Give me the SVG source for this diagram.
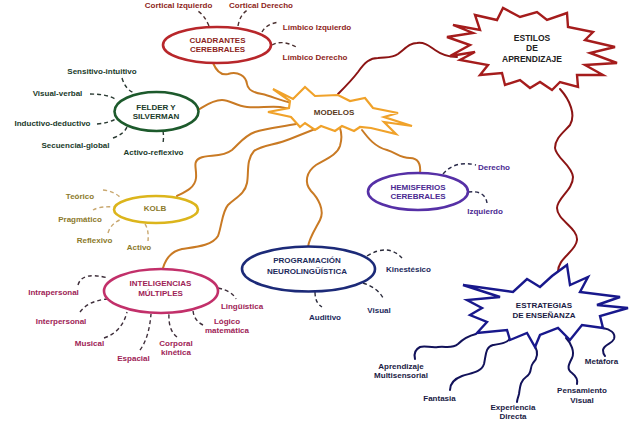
<svg xmlns="http://www.w3.org/2000/svg" width="631" height="423" viewBox="0 0 631 423">
<style>
text{font-family:"Liberation Sans",Arial,sans-serif;font-weight:bold;font-size:8px;text-anchor:middle}
.wire{fill:none;stroke-width:2;stroke-linecap:round}
.or{stroke:#c97a24}
.rd{stroke:#8c1414}
.nv{stroke:#12125a}
.dash{fill:none;stroke-width:1.4;stroke-dasharray:4 3}
.node{fill:#fff;stroke-width:2.6}
.cq{stroke:#b8272b}.tcq{fill:#8e1f22}
.fs{stroke:#1d5a2c}.tfs{fill:#1b3b2b}
.kb{stroke:#dcb51c}.tkb{fill:#8c7a2c}
.im{stroke:#c2306a}.tim{fill:#9e2356}
.pn{stroke:#1c2a78}.tpn{fill:#1c2a5c}
.hm{stroke:#5630a6}.thm{fill:#4a2a92}
.md{stroke:#f0a22a;stroke-width:2.2}.tmd{fill:#5a3a1a}
.es{stroke:#a51c1c;stroke-width:2.4}.tes{fill:#222}
.et{stroke:#18188c;stroke-width:2.4}.tet{fill:#1a1a44}
</style>

<g id="connectors">
  <!-- orange from MODELOS -->
  <path class="wire or" d="M213,63 C216,70 220,76 228,74 C238,71 246,76 247,84 C248,91 255,93 262,94 C272,96 280,101 293,103"/>
  <path class="wire or" d="M198,110 C205,106 212,100 222,100 C230,100 236,106 247,107 C258,108 270,106 280,107 C286,108 290,109 294,110"/>
  <path class="wire or" d="M177,196 C185,192 195,188 196,178 C197,168 192,162 200,158 C208,154 222,158 232,150 C240,143 244,136 255,132 C265,129 280,127 296,124"/>
  <path class="wire or" d="M163,268 C166,258 172,251 182,249 C195,247 212,246 218,236 C222,225 222,212 228,205 C235,198 245,194 247,183 C249,172 246,160 254,151 C262,145 276,145 290,139 C300,135 310,131 318,128"/>
  <path class="wire or" d="M308,247 C309,238 316,228 320,220 C325,210 318,198 311,191 C304,183 306,172 316,165 C326,159 337,155 340,146 C342,139 342,134 340,128"/>
  <path class="wire or" d="M362,130 C368,138 375,147 387,150 C397,153 400,158 410,158 C418,158 421,164 420,173"/>
  <!-- red -->
  <path class="wire rd" d="M338,94 C346,86 352,80 358,72 C365,62 370,58 378,58 C388,57 392,58 398,54 C406,48 410,43 417,43 C426,42 430,47 435,50 C442,55 448,57 457,57"/>
  <path class="wire rd" d="M560,89 C570,100 576,115 570,125 C564,132 555,138 555,148 C556,158 572,165 573,177 C573,190 557,198 557,208 C557,220 578,228 577,240 C576,252 557,258 558,273"/>
  <!-- navy from ESTRATEGIAS -->
  <path class="wire nv" d="M476,334 C468,336 462,340 458,344 C452,349 446,346 438,347 C430,348 425,345 420,347 C414,350 414,355 415,359"/>
  <path class="wire nv" d="M510,338 C508,343 500,344 493,345 C485,347 486,356 484,364 C481,373 470,373 462,376 C454,379 450,384 450,390"/>
  <path class="wire nv" d="M535,346 C538,352 538,358 533,363 C529,368 533,373 526,377 C520,381 520,388 519,394 C518,398 517,400 517,402"/>
  <path class="wire nv" d="M566,338 C571,343 575,352 572,358 C569,364 566,369 572,373 C577,377 578,380 577,384"/>
  <path class="wire nv" d="M603,328 C610,329 616,333 614,339 C612,344 604,344 603,350 C603,353 604,355 605,356"/>
  <!-- dashed: cuadrantes -->
  <g stroke="#4a3030">
    <path class="dash" d="M209,26 Q204,14 196,10"/>
    <path class="dash" d="M238,26 Q240,14 249,9"/>
    <path class="dash" d="M262,32 Q266,24 279,22"/>
    <path class="dash" d="M272,45 Q283,39 298,48"/>
  </g>
  <!-- dashed: felder -->
  <g stroke="#2a3a32">
    <path class="dash" d="M122,78 Q125,89 134,93"/>
    <path class="dash" d="M90,94 Q108,94 117,100"/>
    <path class="dash" d="M97,124 Q110,123 117,118"/>
    <path class="dash" d="M113,138 Q124,134 127,127"/>
    <path class="dash" d="M163,131 Q164,137 163,143"/>
  </g>
  <!-- dashed: kolb -->
  <g stroke="#c9a870">
    <path class="dash" d="M103,190 Q114,191 121,198"/>
    <path class="dash" d="M93,210 Q100,206 114,207"/>
    <path class="dash" d="M108,233 Q111,223 122,219"/>
    <path class="dash" d="M145,224 Q149,230 148,241"/>
  </g>
  <!-- dashed: inteligencias -->
  <g stroke="#3e2e3a">
    <path class="dash" d="M78,285 Q82,271 108,278"/>
    <path class="dash" d="M80,312 Q88,301 107,299"/>
    <path class="dash" d="M104,338 Q122,332 127,312"/>
    <path class="dash" d="M140,350 Q149,338 151,314"/>
    <path class="dash" d="M177,337 Q168,330 169,313"/>
    <path class="dash" d="M203,325 Q193,320 193,309"/>
    <path class="dash" d="M218,288 Q232,291 236,299"/>
  </g>
  <!-- dashed: pnl -->
  <g stroke="#2a2a3a">
    <path class="dash" d="M367,256 Q388,243 402,258"/>
    <path class="dash" d="M363,283 Q378,288 383,298"/>
    <path class="dash" d="M315,292 Q315,303 322,307"/>
  </g>
  <!-- dashed: hemisferios -->
  <g stroke="#2a2a4a">
    <path class="dash" d="M443,174 Q455,160 476,165"/>
    <path class="dash" d="M468,192 Q485,190 487,203"/>
  </g>
</g>

<g id="modelos">
  <polygon class="node md" points="273,89 293,99 305,87 315,96 338,95 350,101 365,98 373,108 398,113 384,117 412,126 384,122 396,134 371,128 360,127 354,131 342,126 335,131 321,126 315,130 305,123 300,127 291,117 268,112 289,108 290,101"/>
  <text class="tmd" x="334" y="115">MODELOS</text>
</g>

<g id="estilos">
  <polygon class="node es" points="453,25 480,30 475,15 497,20 503,8 520,17 537,12 547,20 567,13 568,27 593,32 585,40 615,47 590,53 617,63 585,65 603,75 577,75 578,87 560,82 552,90 540,82 530,88 520,80 505,85 502,73 480,75 488,65 460,60 475,52 450,56 470,45 447,37 473,33"/>
  <text class="tes" x="532" y="41" style="font-size:8.5px">ESTILOS</text>
  <text class="tes" x="532" y="51" style="font-size:8.5px">DE</text>
  <text class="tes" x="532" y="62" style="font-size:8.5px">APRENDIZAJE</text>
</g>

<g id="cuadrantes">
  <ellipse class="node cq" cx="217" cy="45" rx="54" ry="18"/>
  <text class="tcq" x="217.5" y="43">CUADRANTES</text>
  <text class="tcq" x="217.5" y="52">CEREBRALES</text>
  <text class="tcq" x="178.5" y="8">Cortical Izquierdo</text>
  <text class="tcq" x="261" y="8">Cortical Derecho</text>
  <text class="tcq" x="317" y="30">Límbico Izquierdo</text>
  <text class="tcq" x="315" y="60">Límbico Derecho</text>
</g>

<g id="felder">
  <ellipse class="node fs" cx="156.5" cy="111.5" rx="42" ry="19.5"/>
  <text class="tfs" x="156" y="110">FELDER Y</text>
  <text class="tfs" x="156" y="119">SILVERMAN</text>
  <text class="tfs" x="102" y="74">Sensitivo-intuitivo</text>
  <text class="tfs" x="57.5" y="96">Visual-verbal</text>
  <text class="tfs" x="52.5" y="126">Inductivo-deductivo</text>
  <text class="tfs" x="75.5" y="148">Secuencial-global</text>
  <text class="tfs" x="153.5" y="155">Activo-reflexivo</text>
</g>

<g id="kolb">
  <ellipse class="node kb" cx="156" cy="209.5" rx="42" ry="13.5"/>
  <text class="tkb" x="155" y="211">KOLB</text>
  <text class="tkb" x="80" y="199">Teórico</text>
  <text class="tkb" x="80" y="222">Pragmático</text>
  <text class="tkb" x="94.5" y="243">Reflexivo</text>
  <text class="tkb" x="139" y="250">Activo</text>
</g>

<g id="inteligencias">
  <ellipse class="node im" cx="161" cy="291" rx="57" ry="22"/>
  <text class="tim" x="160.5" y="286">INTELIGENCIAS</text>
  <text class="tim" x="160.5" y="296">MÚLTIPLES</text>
  <text class="tim" x="53.5" y="295">Intrapersonal</text>
  <text class="tim" x="61" y="324">Interpersonal</text>
  <text class="tim" x="89.5" y="346">Musical</text>
  <text class="tim" x="133.5" y="361">Espacial</text>
  <text class="tim" x="176" y="346">Corporal</text>
  <text class="tim" x="176" y="355">kinética</text>
  <text class="tim" x="227" y="324">Lógico</text>
  <text class="tim" x="227" y="333">matemática</text>
  <text class="tim" x="242" y="309">Lingüística</text>
</g>

<g id="pnl">
  <ellipse class="node pn" cx="308.5" cy="269" rx="66.5" ry="22.5"/>
  <text class="tpn" x="307" y="263">PROGRAMACIÓN</text>
  <text class="tpn" x="307" y="274">NEUROLINGÜÍSTICA</text>
  <text class="tpn" x="408.5" y="272">Kinestésico</text>
  <text class="tpn" x="379" y="313">Visual</text>
  <text class="tpn" x="325" y="320">Auditivo</text>
</g>

<g id="hemisferios">
  <ellipse class="node hm" cx="418" cy="191.5" rx="50" ry="18.5"/>
  <text class="thm" x="418" y="190">HEMISFERIOS</text>
  <text class="thm" x="418" y="199">CEREBRALES</text>
  <text class="thm" x="494" y="170">Derecho</text>
  <text class="thm" x="485" y="214">Izquierdo</text>
</g>

<g id="estrategias">
  <polygon class="node et" points="463,285 513,292 527,279 540,287 552,276 567,265 570,285 588,277 580,292 620,297 597,305 628,308 600,316 603,328 582,325 570,340 558,328 540,335 535,347 527,333 510,340 507,330 477,333 487,322 470,315 482,308 467,300 500,297"/>
  <text class="tet" x="544" y="308">ESTRATEGIAS</text>
  <text class="tet" x="544" y="318">DE ENSEÑANZA</text>
  <text class="tet" x="401" y="369">Aprendizaje</text>
  <text class="tet" x="401" y="378">Multisensorial</text>
  <text class="tet" x="439.5" y="401">Fantasia</text>
  <text class="tet" x="513" y="410">Experiencia</text>
  <text class="tet" x="513" y="419">Directa</text>
  <text class="tet" x="582" y="393">Pensamiento</text>
  <text class="tet" x="582" y="403">Visual</text>
  <text class="tet" x="601.5" y="364">Metáfora</text>
</g>
</svg>
